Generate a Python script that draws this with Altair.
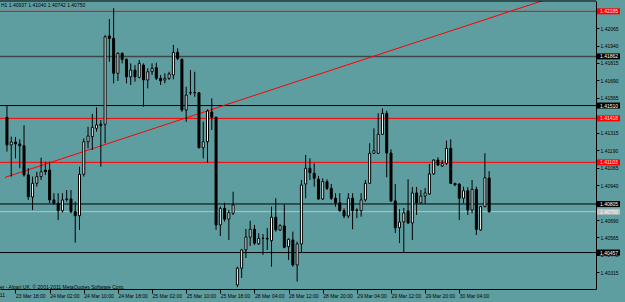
import altair as alt
import pandas as pd

# ---------------- data ----------------
OPEN = [1.41426, 1.41228, 1.41249, 1.41235, 1.41222, 1.41013, 1.40855, 1.40953, 1.41001, 1.41048,
        1.41048, 1.40834, 1.40810, 1.40757, 1.40837, 1.40841, 1.40750, 1.40721, 1.41018, 1.41251,
        1.41287, 1.41347, 1.41376, 1.41376, 1.42008, 1.41991, 1.41741, 1.41884, 1.41841, 1.41716,
        1.41764, 1.41712, 1.41800, 1.41693, 1.41752, 1.41781, 1.41705, 1.41693, 1.41705, 1.41729,
        1.41891, 1.41841, 1.41478, 1.41600, 1.41602, 1.41602, 1.41208, 1.41251, 1.41464, 1.41426,
        1.40655, 1.40774, 1.40696, 1.40738, 1.40225, 1.40345, 1.40476, 1.40567, 1.40624, 1.40519,
        1.40559, 1.40558, 1.40542, 1.40710, 1.40619, 1.40648, 1.40499, 1.40547, 1.40368, 1.40519,
        1.40948, 1.41061, 1.41025, 1.40982, 1.40841, 1.40965, 1.40917, 1.40846, 1.40814, 1.40757,
        1.40719, 1.40846, 1.40757, 1.40757, 1.40834, 1.40953, 1.41168, 1.41168, 1.41304, 1.41454,
        1.41170, 1.40827, 1.40635, 1.40676, 1.40755, 1.40669, 1.40884, 1.40812, 1.40862, 1.40877,
        1.41020, 1.41120, 1.41077, 1.41096, 1.41204, 1.40953, 1.40948, 1.40846, 1.40900, 1.40762,
        1.40910, 1.40619, 1.40786, 1.40991]
HIGH = [1.41514, 1.41287, 1.41285, 1.41268, 1.41369, 1.41061, 1.41001, 1.41036, 1.41137, 1.41108,
        1.41108, 1.40882, 1.40882, 1.40882, 1.40905, 1.40905, 1.40822, 1.41072, 1.41275, 1.41358,
        1.41450, 1.41497, 1.41406, 1.42015, 1.42130, 1.42208, 1.41891, 1.41891, 1.41848, 1.41812,
        1.41800, 1.41836, 1.41812, 1.41777, 1.41812, 1.41817, 1.41729, 1.41741, 1.41752, 1.41944,
        1.41920, 1.41848, 1.41645, 1.41764, 1.41752, 1.41605, 1.41394, 1.41483, 1.41562, 1.41430,
        1.40786, 1.40814, 1.40762, 1.40893, 1.40356, 1.40483, 1.40626, 1.40685, 1.40655, 1.40595,
        1.40590, 1.40633, 1.40786, 1.40846, 1.40660, 1.40803, 1.40559, 1.40607, 1.40535, 1.40977,
        1.41156, 1.41132, 1.41096, 1.41006, 1.40989, 1.40982, 1.40948, 1.40882, 1.40882, 1.40774,
        1.40882, 1.40882, 1.40774, 1.40882, 1.40977, 1.41240, 1.41347, 1.41454, 1.41490, 1.41473,
        1.41197, 1.40948, 1.40769, 1.40776, 1.40982, 1.40927, 1.40927, 1.40905, 1.40920, 1.41092,
        1.41125, 1.41139, 1.41120, 1.41258, 1.41268, 1.40955, 1.40953, 1.40929, 1.40925, 1.40977,
        1.40929, 1.40791, 1.41168, 1.41040]
LOW = [1.41180, 1.41001, 1.41132, 1.41061, 1.41001, 1.40834, 1.40762, 1.40929, 1.40977, 1.41013,
       1.40810, 1.40798, 1.40690, 1.40743, 1.40822, 1.40738, 1.40528, 1.40619, 1.41001, 1.41204,
       1.41192, 1.41323, 1.41072, 1.41240, 1.41824, 1.41669, 1.41686, 1.41812, 1.41669, 1.41657,
       1.41681, 1.41705, 1.41502, 1.41633, 1.41729, 1.41693, 1.41657, 1.41669, 1.41693, 1.41698,
       1.41836, 1.41466, 1.41394, 1.41585, 1.41573, 1.41204, 1.41132, 1.41101, 1.41335, 1.40619,
       1.40576, 1.40678, 1.40547, 1.40726, 1.40209, 1.40275, 1.40418, 1.40504, 1.40511, 1.40511,
       1.40440, 1.40476, 1.40356, 1.40607, 1.40612, 1.40488, 1.40404, 1.40356, 1.40249, 1.40461,
       1.40846, 1.40977, 1.40929, 1.40834, 1.40834, 1.40905, 1.40834, 1.40786, 1.40750, 1.40703,
       1.40703, 1.40624, 1.40703, 1.40714, 1.40822, 1.40948, 1.41163, 1.41163, 1.41299, 1.40996,
       1.40819, 1.40597, 1.40526, 1.40461, 1.40662, 1.40547, 1.40726, 1.40810, 1.40805, 1.40870,
       1.41013, 1.41077, 1.41070, 1.41084, 1.40948, 1.40934, 1.40690, 1.40810, 1.40726, 1.40738,
       1.40583, 1.40614, 1.40781, 1.40742]
CLOSE = [1.41228, 1.41249, 1.41235, 1.41222, 1.41013, 1.40857, 1.40953, 1.41001, 1.41036, 1.41036,
         1.40834, 1.40810, 1.40757, 1.40834, 1.40841, 1.40750, 1.40721, 1.41018, 1.41251, 1.41292,
         1.41354, 1.41371, 1.41366, 1.42003, 1.41991, 1.41741, 1.41884, 1.41841, 1.41716, 1.41764,
         1.41716, 1.41812, 1.41693, 1.41752, 1.41777, 1.41705, 1.41688, 1.41705, 1.41736, 1.41891,
         1.41848, 1.41478, 1.41585, 1.41604, 1.41603, 1.41208, 1.41251, 1.41471, 1.41426, 1.40655,
         1.40774, 1.40696, 1.40743, 1.40798, 1.40345, 1.40476, 1.40569, 1.40624, 1.40524, 1.40559,
         1.40559, 1.40554, 1.40710, 1.40619, 1.40650, 1.40495, 1.40552, 1.40368, 1.40519, 1.40941,
         1.41061, 1.41029, 1.40989, 1.40841, 1.40965, 1.40917, 1.40846, 1.40814, 1.40757, 1.40719,
         1.40846, 1.40757, 1.40762, 1.40834, 1.40953, 1.41168, 1.41187, 1.41304, 1.41454, 1.41170,
         1.40827, 1.40635, 1.40676, 1.40741, 1.40669, 1.40884, 1.40812, 1.40862, 1.40884, 1.41020,
         1.41120, 1.41084, 1.41096, 1.41204, 1.40953, 1.40941, 1.40846, 1.40900, 1.40762, 1.40910,
         1.40624, 1.40786, 1.40993, 1.40750]

X_TICK_INDEX = [2, 10, 18, 26, 34, 42, 50, 58, 66, 74, 82, 90, 98, 106]
X_TICK_LABELS = ["23 Mar 18:00", "24 Mar 02:00", "24 Mar 10:00", "24 Mar 18:00", "25 Mar 02:00",
                 "25 Mar 10:00", "25 Mar 18:00", "28 Mar 04:00", "28 Mar 12:00", "28 Mar 20:00",
                 "29 Mar 04:00", "29 Mar 12:00", "29 Mar 20:00", "30 Mar 04:00"]
FIRST_LABEL_INDEX = [-6]
FIRST_LABEL = ["23 Mar 2011"]

# grid prices whose labels are not covered by a price tag
Y_TICKS = [1.40315, 1.40440, 1.40565, 1.40690, 1.40940, 1.41065, 1.41190,
           1.41315, 1.41565, 1.41690, 1.41815, 1.41940, 1.42065]

HLINE_PRICE = [1.42185, 1.41862, 1.41510, 1.41418, 1.41103, 1.40805, 1.40750, 1.40457]
HLINE_LABEL = ["1.42185", "1.41862", "1.41510", "1.41418", "1.41103", "1.40805", "1.40750", "1.40457"]
HLINE_COLOR = ["#ff0000", "#3c4848", "#000000", "#ff0000", "#ff0000", "#000000", "#c0c0c0", "#000000"]
HLINE_WIDTH = [1, 1.5, 1, 1, 1, 1, 1, 1]
TAG_BG = ["#ff0000", "#000000", "#000000", "#ff0000", "#ff0000", "#000000", "#c0c0c0", "#000000"]
TAG_FG = ["#ffe0e0", "#ffffff", "#ffffff", "#ffe0e0", "#ffe0e0", "#ffffff", "#f4f4f4", "#ffffff"]

TREND_INDEX = [-0.5, 128.6]
TREND_PRICE = [1.40995, 1.42292]

HEADER = "H1  1.40937 1.41040 1.40742 1.40750"
COPYRIGHT = "er - Alpari UK, \u00a9 2001-2011 MetaQuotes Software Corp."

# ---------------- chart ----------------
FONT = "Liberation Sans"
FS = 5.0
W, H = 596, 288

assert len(OPEN) == len(HIGH) == len(LOW) == len(CLOSE)
df = pd.DataFrame({"i": range(len(OPEN)), "open": OPEN, "high": HIGH, "low": LOW, "close": CLOSE})
df["fill"] = ["white" if c >= o else "black" for o, c in zip(OPEN, CLOSE)]

xscale = alt.Scale(domain=[-0.46, 136.87], nice=False, zero=False)
yscale = alt.Scale(domain=[1.40196, 1.42259], nice=False, zero=False)

label_expr = "[" + ",".join("'%s'" % s for s in X_TICK_LABELS) + "][round((datum.value - 2) / 8)]"

x_axis = alt.Axis(values=X_TICK_INDEX, labelExpr=label_expr, tickSize=4, tickColor="black",
                  domainColor="black", labelAlign="left", labelPadding=0,
                  labelBaseline="top", labelFont=FONT, labelFontSize=FS, labelColor="black",
                  labelOverlap=False, labelFlush=False, grid=False, title=None)
y_axis = alt.Axis(orient="right", values=Y_TICKS, format=".5f", tickSize=3, tickColor="black",
                  domainColor="black", labelAlign="left", labelPadding=1, labelBaseline="middle",
                  labelFont=FONT, labelFontSize=FS, labelColor="black", labelOverlap=False,
                  labelFlush=False, grid=False, title=None)


def X():
    return alt.X("i:Q", scale=xscale, axis=x_axis)


def Y(field):
    return alt.Y(field, scale=yscale, axis=y_axis)


wicks = alt.Chart(df).mark_rule(color="black", strokeWidth=1).encode(
    x=X(), y=Y("low:Q"), y2="high:Q")

bodies = alt.Chart(df).mark_bar(size=2, stroke="black", strokeWidth=1).encode(
    x=X(), y=Y("open:Q"), y2="close:Q",
    fill=alt.Fill("fill:N", scale=None))

hl = pd.DataFrame({"price": HLINE_PRICE, "label": HLINE_LABEL, "color": HLINE_COLOR,
                   "w": HLINE_WIDTH, "bg": TAG_BG, "fg": TAG_FG})

hlines = alt.Chart(hl).mark_rule().encode(
    y=Y("price:Q"),
    color=alt.Color("color:N", scale=None),
    strokeWidth=alt.StrokeWidth("w:Q", scale=None))

trend = alt.Chart(pd.DataFrame({"i": TREND_INDEX, "p": TREND_PRICE})).mark_line(
    color="#ff0000", strokeWidth=1, clip=True).encode(
    x=X(), y=Y("p:Q"))

tag_box = alt.Chart(hl).mark_rule(strokeWidth=6, strokeCap="butt").encode(
    y=Y("price:Q"),
    x=alt.value(W + 1), x2=alt.value(W + 24),
    color=alt.Color("bg:N", scale=None))

tag_text = alt.Chart(hl).mark_text(align="left", baseline="middle", font=FONT, fontSize=FS).encode(
    y=Y("price:Q"),
    x=alt.value(W + 4), text="label:N",
    color=alt.Color("fg:N", scale=None))

top_border = alt.Chart(pd.DataFrame({"a": [0]})).mark_rule(color="black", strokeWidth=1).encode(
    y=alt.value(0), x=alt.value(0), x2=alt.value(W))

header = alt.Chart(pd.DataFrame({"t": [HEADER]})).mark_text(
    align="left", baseline="middle", font=FONT, fontSize=FS, color="black").encode(
    x=alt.value(1), y=alt.value(4), text="t:N")

copyright_t = alt.Chart(pd.DataFrame({"t": [COPYRIGHT]})).mark_text(
    align="left", baseline="middle", font=FONT, fontSize=FS, color="black").encode(
    x=alt.value(0), y=alt.value(H - 2.5), text="t:N")

first_lbl = alt.Chart(pd.DataFrame({"i": FIRST_LABEL_INDEX, "t": FIRST_LABEL})).mark_text(
    align="left", baseline="top", font=FONT, fontSize=FS, color="black", dx=-4).encode(
    x=X(), y=alt.value(H + 4), text="t:N")

chart = alt.layer(
    hlines, trend, wicks, bodies, tag_box, tag_text, top_border, header, copyright_t, first_lbl
).properties(
    width=W, height=H,
    padding={"left": 0, "top": 1, "right": 29, "bottom": 13},
    autosize=alt.AutoSizeParams(type="none"),
    background="#5F9EA0",
).configure_view(stroke=None)

chart.save("out.html", embed_options={"renderer": "svg", "actions": False})
